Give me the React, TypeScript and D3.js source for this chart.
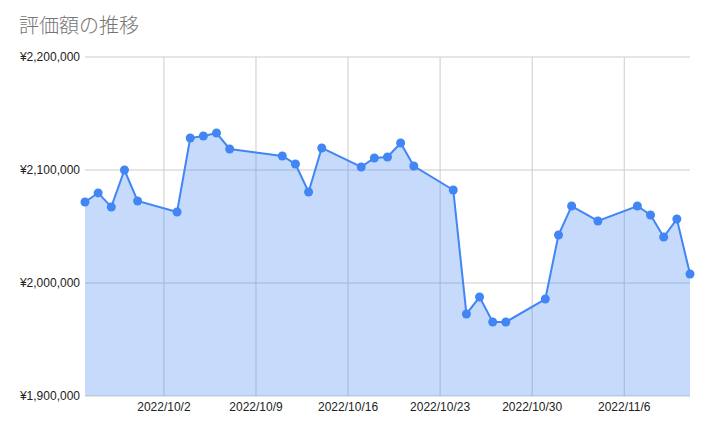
import React from "react";
import * as d3 from "d3";

const dates = [
  "2022-09-26","2022-09-27","2022-09-28","2022-09-29","2022-09-30",
  "2022-10-03","2022-10-04","2022-10-05","2022-10-06","2022-10-07",
  "2022-10-11","2022-10-12","2022-10-13","2022-10-14",
  "2022-10-17","2022-10-18","2022-10-19","2022-10-20","2022-10-21",
  "2022-10-24","2022-10-25","2022-10-26","2022-10-27","2022-10-28",
  "2022-10-31","2022-11-01","2022-11-02","2022-11-04",
  "2022-11-07","2022-11-08","2022-11-09","2022-11-10","2022-11-11",
];
const values = [
  2071700, 2079700, 2067300, 2100000, 2072600,
  2062800, 2128300, 2130100, 2132700, 2118600,
  2112400, 2105300, 2080500, 2119500,
  2102700, 2110600, 2111500, 2123900, 2103500,
  2082300, 1972600, 1987600, 1965500, 1965500,
  1985800, 2042500, 2068100, 2054900,
  2068100, 2060200, 2040700, 2056600, 2008000,
];
const yTicks = [1900000, 2000000, 2100000, 2200000];
const xTicks = ["2022-10-02","2022-10-09","2022-10-16","2022-10-23","2022-10-30","2022-11-06"];
const title = "評価額の推移";

const W = 710, H = 434;
const M = { left: 85, right: 690, top: 57, bottom: 396 };

export default function App() {
  const parse = d3.timeParse("%Y-%m-%d");
  const data = dates.map((d, i) => ({ date: parse(d)!, value: values[i] }));
  const x = d3.scaleTime()
    .domain([parse("2022-09-26")!, parse("2022-11-11")!])
    .range([M.left, M.right]);
  const y = d3.scaleLinear().domain([1900000, 2200000]).range([M.bottom, M.top]);
  const line = d3.line<any>().x(d => x(d.date)).y(d => y(d.value));
  const area = d3.area<any>().x(d => x(d.date)).y0(y(1900000)).y1(d => y(d.value));
  const fmtY = (v: number) => "¥" + d3.format(",")(v);
  const fmtX = (s: string) => { const d = parse(s)!; return `${d.getFullYear()}/${d.getMonth() + 1}/${d.getDate()}`; };
  const font = "Arial, 'Liberation Sans', sans-serif";

  return (
    <svg width={W} height={H} style={{ position: "absolute", left: 0, top: 0, background: "#fff" }}>
      <text x={19} y={33} fontSize={20} fill="#757575" fontFamily="'Noto Sans CJK JP', sans-serif" fontWeight={300}>{title}</text>
      {yTicks.map(t => (
        <g key={t}>
          <line x1={M.left} x2={M.right} y1={y(t)} y2={y(t)} stroke="#cccccc" strokeWidth={1} />
          <text x={80} y={y(t) + 4} textAnchor="end" fontSize={12} fill="#222" fontFamily={font}>{fmtY(t)}</text>
        </g>
      ))}
      {xTicks.map(t => (
        <g key={t}>
          <line x1={x(parse(t)!)} x2={x(parse(t)!)} y1={M.top} y2={M.bottom} stroke="#cccccc" strokeWidth={1} />
          <text x={x(parse(t)!)} y={411} textAnchor="middle" fontSize={12} fill="#222" fontFamily={font}>{fmtX(t)}</text>
        </g>
      ))}
      <path d={area(data)!} fill="#4285f4" fillOpacity={0.3} />
      <path d={line(data)!} fill="none" stroke="#4285f4" strokeWidth={2} />
      {data.map((d, i) => (
        <circle key={i} cx={x(d.date)} cy={y(d.value)} r={4.5} fill="#4285f4" />
      ))}
    </svg>
  );
}
